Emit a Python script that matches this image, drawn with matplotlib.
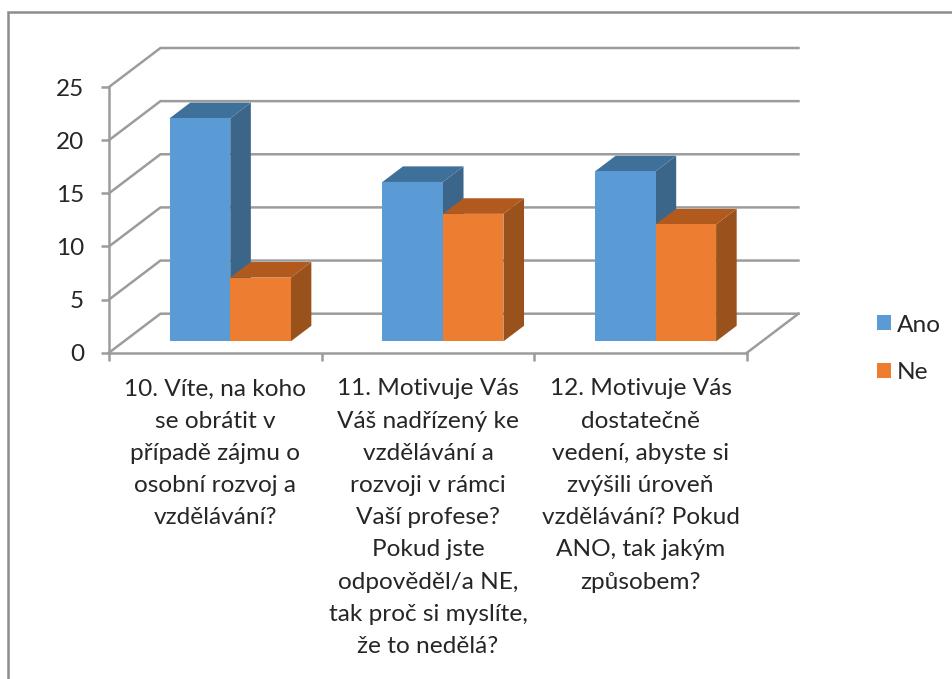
# -*- coding: utf-8 -*-
import matplotlib.pyplot as plt
from matplotlib.lines import Line2D

plt.rcParams['font.family'] = ['Lato', 'DejaVu Sans']

# values
otazky = ["10. Víte, na koho\nse obrátit v\npřípadě zájmu o\nosobní rozvoj a\nvzdělávání?",
          "11. Motivuje Vás\nVáš nadřízený ke\nvzdělávání a\nrozvoji v rámci\nVaší profese?\nPokud jste\nodpověděl/a NE,\ntak proč si myslíte,\nže to nedělá?",
          "12. Motivuje Vás\ndostatečně\nvedení, abyste si\nzvýšili úroveň\nvzdělávání? Pokud\nANO, tak jakým\nzpůsobem?"]
ano = [21, 15, 16]
ne = [6, 12, 11]
y_ticks = [0, 5, 10, 15, 20, 25]

# colours
seda = '#9C9C9C'
modra = ['#5B9BD5', '#3B6689', '#3F7099']
oranz = ['#ED7D31', '#9A521C', '#B25A1E']

# fake 3D, depth of the floor in data units
DX = 0.242
DY = 3.67
W = 0.2845      # bar width
D0 = 0.29       # depth where the bar starts
D1 = 0.69       # depth where the bar ends
LW = 1.8

W_px, H_px = 952, 679
fig = plt.figure(figsize=(W_px / 100, H_px / 100), dpi=100, facecolor='white')
ax = fig.add_axes([109 / W_px, 1 - 352.7 / H_px, 638 / W_px, 265.7 / H_px])
ax.set_xlim(0, 3)
ax.set_ylim(0, 25)

# walls
for v in y_ticks:
    ax.plot([0, DX, 3 + DX], [v, v + DY, v + DY], color=seda, lw=LW,
            clip_on=False, zorder=1, solid_joinstyle='miter')
ax.plot([3, 3 + DX], [0, DY], color=seda, lw=LW, clip_on=False, zorder=1)


def sloupec(x, v, barvy, label=None):
    x0 = x + D0 * DX
    y0 = D0 * DY
    sx = (D1 - D0) * DX
    sy = (D1 - D0) * DY
    ax.fill([x0 + W, x0 + W + sx, x0 + W + sx, x0 + W],
            [y0, y0 + sy, y0 + v + sy, y0 + v],
            color=barvy[1], lw=0, clip_on=False, zorder=3)
    ax.fill([x0, x0 + sx, x0 + W + sx, x0 + W],
            [y0 + v, y0 + v + sy, y0 + v + sy, y0 + v],
            color=barvy[2], lw=0, clip_on=False, zorder=3)
    ax.bar(x0, v, W, bottom=y0, align='edge', color=barvy[0], lw=0,
           clip_on=False, zorder=3, label=label)


for i in range(len(otazky)):
    stred = i + 0.5
    sloupec(stred - W, ano[i], modra, 'Ano' if i == 0 else None)
    sloupec(stred, ne[i], oranz, 'Ne' if i == 0 else None)

# axes
for s in ['top', 'right']:
    ax.spines[s].set_visible(False)
for s in ['left', 'bottom']:
    ax.spines[s].set_color(seda)
    ax.spines[s].set_linewidth(LW)
    ax.spines[s].set_zorder(2)

ax.set_yticks(y_ticks)
ax.set_xticks([0, 1, 2, 3])
ax.set_xticklabels([])
ax.set_xticks([0.5, 1.5, 2.5], minor=True)
ax.set_xticklabels(otazky, minor=True, linespacing=1.66)
ax.tick_params(axis='y', length=6, width=LW, color=seda, pad=12,
               labelsize=17.5, labelcolor='#262626')
ax.tick_params(axis='x', which='major', length=6, width=LW, color=seda)
ax.tick_params(axis='x', which='minor', length=0, pad=18.5,
               labelsize=17.6, labelcolor='#262626')

ax.legend(loc='center left', bbox_to_anchor=(877 / W_px, 1 - 349 / H_px),
          bbox_transform=fig.transFigure, frameon=False, fontsize=17.6,
          handlelength=0.57, handleheight=0.57, handletextpad=0.24,
          labelspacing=1.1, labelcolor='#262626', borderpad=0, borderaxespad=0)

# outer frame of the picture
fig.add_artist(Line2D([8 / W_px, 8 / W_px, 1], [0, 1 - 12 / H_px, 1 - 12 / H_px],
                      color='#8C8C8C', lw=1.8, solid_joinstyle='miter'))

fig.savefig('out.png', dpi=100)
